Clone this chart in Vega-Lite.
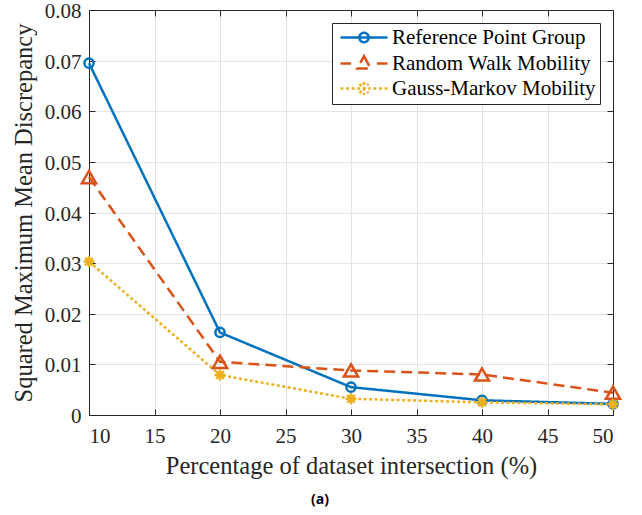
{
  "$schema": "https://vega.github.io/schema/vega-lite/v6.json",
  "width": 524,
  "height": 405,
  "autosize": "none",
  "padding": {"left": 89, "top": 10, "right": 29, "bottom": 100},
  "background": "white",
  "config": {
    "view": {"stroke": null},
    "font": "Liberation Serif",
    "axis": {
      "domainColor": "#262626",
      "domainWidth": 1,
      "tickColor": "#262626",
      "tickSize": -6,
      "gridColor": "#e3e3e3",
      "gridWidth": 1,
      "labelFont": "Liberation Serif",
      "labelFontSize": 21,
      "labelColor": "#262626",
      "titleFont": "Liberation Serif",
      "titleFontSize": 24.5,
      "titleFontWeight": "normal",
      "titleColor": "#262626"
    }
  },
  "title": {
    "text": "(a)",
    "orient": "bottom",
    "font": "Open Sans",
    "fontWeight": "bold",
    "fontSize": 14,
    "color": "#000000",
    "offset": 15,
    "dx": -31
  },
  "data": {
    "values": [
      {"pct": 10, "series": "Reference Point Group", "smmd": 0.0695},
      {"pct": 20, "series": "Reference Point Group", "smmd": 0.0163},
      {"pct": 30, "series": "Reference Point Group", "smmd": 0.0055},
      {"pct": 40, "series": "Reference Point Group", "smmd": 0.0029},
      {"pct": 50, "series": "Reference Point Group", "smmd": 0.0022},
      {"pct": 10, "series": "Random Walk Mobility", "smmd": 0.047},
      {"pct": 20, "series": "Random Walk Mobility", "smmd": 0.0105},
      {"pct": 30, "series": "Random Walk Mobility", "smmd": 0.0088},
      {"pct": 40, "series": "Random Walk Mobility", "smmd": 0.008},
      {"pct": 50, "series": "Random Walk Mobility", "smmd": 0.0044},
      {"pct": 10, "series": "Gauss-Markov Mobility", "smmd": 0.0303},
      {"pct": 20, "series": "Gauss-Markov Mobility", "smmd": 0.0079},
      {"pct": 30, "series": "Gauss-Markov Mobility", "smmd": 0.0032},
      {"pct": 40, "series": "Gauss-Markov Mobility", "smmd": 0.0025},
      {"pct": 50, "series": "Gauss-Markov Mobility", "smmd": 0.0021}
    ]
  },
  "layer": [
    {
      "mark": {"type": "line", "strokeWidth": 2.5, "clip": false},
      "encoding": {
        "x": {
          "field": "pct",
          "type": "quantitative",
          "scale": {"domain": [10, 50], "nice": false, "zero": false},
          "axis": {
            "orient": "bottom",
            "values": [10, 15, 20, 25, 30, 35, 40, 45, 50],
            "labelPadding": 16,
            "title": "Percentage of dataset intersection (%)",
            "titlePadding": 8
          }
        },
        "y": {
          "field": "smmd",
          "type": "quantitative",
          "scale": {"domain": [0, 0.08], "nice": false},
          "axis": {
            "orient": "left",
            "values": [0, 0.01, 0.02, 0.03, 0.04, 0.05, 0.06, 0.07, 0.08],
            "format": ".2~f",
            "labelPadding": 14,
            "labelOffset": 1.5,
            "title": "Squared Maximum Mean Discrepancy",
            "titlePadding": 8
          }
        },
        "color": {
          "field": "series",
          "type": "nominal",
          "scale": {
            "domain": ["Reference Point Group", "Random Walk Mobility", "Gauss-Markov Mobility"],
            "range": ["#0072BD", "#D95319", "#EDB120"]
          },
          "legend": {
            "title": null,
            "orient": "top-right",
            "offset": 13,
            "padding": 4,
            "strokeColor": "#262626",
            "fillColor": "white",
            "labelFont": "Liberation Serif",
            "labelFontSize": 21,
            "labelColor": "#000000",
            "labelLimit": 0,
            "labelOffset": 17.5,
            "symbolOffset": 17.5,
            "rowPadding": 3,
            "symbolSize": 138,
            "symbolStrokeWidth": 2.5,
            "encode": {
              "symbols": {
                "update": {
                  "shape": {
                    "signal": "datum.value === 'Reference Point Group' ? 'M-4,0H4M-0.8,0A0.8,0.8 0 1,0 0.8,0A0.8,0.8 0 1,0 -0.8,0' : datum.value === 'Random Walk Mobility' ? 'M-4,0H-2.2M2.2,0H4M0,-1.25L1.15,0.85L-1.15,0.85Z' : 'M-4,0H-3.5M-3.05,0H-2.55M-2.1,0H-1.6M-1.15,0H1.15M1.6,0H2.1M2.55,0H3.05M3.5,0H4M0,-1.1V1.1M-0.78,-0.78L0.78,0.78M-0.78,0.78L0.78,-0.78'"
                  },
                  "fill": {"value": "transparent"},
                  "strokeDash": {"value": []},
                  "strokeWidth": {"value": 2.5}
                }
              }
            }
          }
        },
        "strokeDash": {
          "field": "series",
          "type": "nominal",
          "scale": {
            "domain": ["Reference Point Group", "Random Walk Mobility", "Gauss-Markov Mobility"],
            "range": [[1, 0], [11, 6], [3, 2.5]]
          },
          "legend": null
        }
      }
    },
    {
      "transform": [{"filter": "datum.series === 'Reference Point Group'"}],
      "mark": {"type": "point", "shape": "circle", "size": 85, "filled": false, "color": "#0072BD", "strokeWidth": 2.5, "opacity": 1, "clip": false},
      "encoding": {
        "x": {
          "field": "pct",
          "type": "quantitative",
          "axis": {
            "orient": "top",
            "values": [10, 15, 20, 25, 30, 35, 40, 45, 50],
            "labels": false,
            "grid": false,
            "title": null
          }
        },
        "y": {
          "field": "smmd",
          "type": "quantitative",
          "axis": {
            "orient": "right",
            "values": [0, 0.01, 0.02, 0.03, 0.04, 0.05, 0.06, 0.07, 0.08],
            "labels": false,
            "grid": false,
            "title": null
          }
        }
      }
    },
    {
      "transform": [{"filter": "datum.series === 'Random Walk Mobility'"}],
      "mark": {"type": "point", "shape": "triangle-up", "size": 200, "filled": false, "color": "#D95319", "strokeWidth": 2.5, "opacity": 1, "clip": false},
      "encoding": {
        "x": {"field": "pct", "type": "quantitative", "axis": null},
        "y": {"field": "smmd", "type": "quantitative", "axis": null}
      }
    },
    {
      "transform": [{"filter": "datum.series === 'Gauss-Markov Mobility'"}],
      "mark": {"type": "point", "shape": "M0,-1V1M-1,0H1M-0.7,-0.7L0.7,0.7M-0.7,0.7L0.7,-0.7", "size": 120, "filled": false, "color": "#EDB120", "strokeWidth": 2.5, "opacity": 1, "clip": false},
      "encoding": {
        "x": {"field": "pct", "type": "quantitative", "axis": null},
        "y": {"field": "smmd", "type": "quantitative", "axis": null}
      }
    }
  ],
  "resolve": {"axis": {"x": "independent", "y": "independent"}}
}
